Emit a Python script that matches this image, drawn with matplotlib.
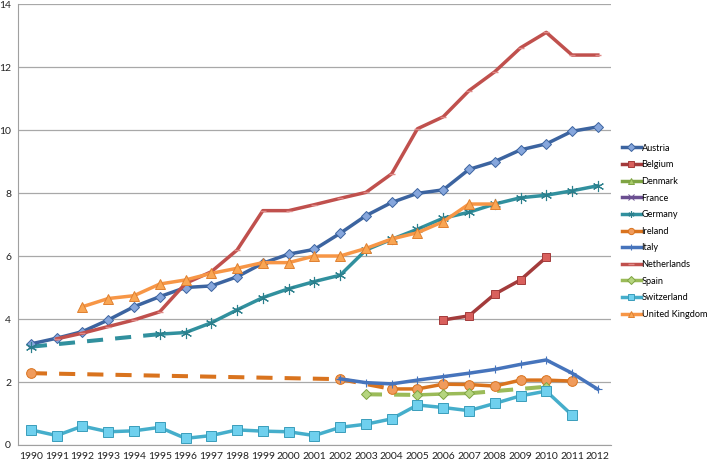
import numpy as np
import matplotlib
matplotlib.use("Agg")
import matplotlib.pyplot as plt

plt.rcParams['font.family'] = ['Lato', 'DejaVu Sans']

years = [str(y) for y in range(1990, 2013)]
nan = np.nan

austria = [3.21, 3.39, 3.6, 3.97, 4.39, 4.71, 5.0, 5.05, 5.34, 5.77, 6.06, 6.21, 6.72,
           7.28, 7.70, 7.99, 8.10, 8.75, 9.0, 9.37, 9.56, 9.96, 10.1]
belgium = [nan]*16 + [3.97, 4.1, 4.79, 5.24, 5.96, nan, nan]
denmark = [nan]*23
france = [nan]*23
germany = [3.12, nan, nan, nan, nan, 3.52, 3.57, 3.88, 4.29, 4.68, 4.96, 5.19, 5.39,
           6.19, 6.53, 6.85, 7.2, 7.39, 7.65, 7.85, 7.93, 8.07, 8.23]
ireland = [2.28] + [nan]*11 + [2.09, nan, 1.78, 1.78, 1.93, 1.92, 1.87, 2.06, 2.06, 2.03, nan]
italy = [nan]*12 + [2.1, 1.98, 1.94, 2.06, 2.17, 2.28, 2.4, 2.56, 2.7, 2.28, 1.77]
netherlands = [nan, 3.37, 3.55, 3.76, 3.97, 4.23, 5.13, 5.5, 6.19, 7.44, 7.44, 7.63, 7.83,
               8.02, 8.61, 10.04, 10.42, 11.25, 11.85, 12.61, 13.1, 12.38, 12.38]
spain = [nan]*13 + [1.61, nan, 1.59, 1.62, 1.64, nan, nan, 1.85, nan, nan]
switzerland = [0.48, 0.3, 0.6, 0.42, 0.45, 0.56, 0.21, 0.3, 0.48, 0.44, 0.42, 0.3, 0.56,
               0.66, 0.83, 1.27, 1.19, 1.09, 1.32, 1.56, 1.71, 0.95, nan]
uk = [nan, nan, 4.39, 4.65, 4.74, 5.11, 5.24, 5.45, 5.61, 5.79, 5.79, 6.0, 6.0,
      6.24, 6.54, 6.74, 7.09, 7.65, 7.65, nan, nan, nan, nan]

series = [
    ("Austria", austria, dict(color="#3C64A0", marker="D", mfc="#86A6DC", mec="#3C64A0", ms=5)),
    ("Belgium", belgium, dict(color="#A33B3B", marker="s", mfc="#D9605D", mec="#A33B3B", ms=6)),
    ("Denmark", denmark, dict(color="#7FA443", marker="^", mfc="#A8CC6A", mec="#7FA443", ms=6)),
    ("France", france, dict(color="#6B4F91", marker="x", mfc="#6B4F91", mec="#6B4F91", ms=6)),
    ("Germany", germany, dict(color="#31909E", marker=(6, 2, 0), mfc="#31909E", mec="#2B7F8C", ms=8, mew=0.8)),
    ("Ireland", ireland, dict(color="#D9731E", marker="o", mfc="#F09B5C", mec="#D9731E", ms=7)),
    ("Italy", italy, dict(color="#4674BC", marker="+", mfc="#4674BC", mec="#4674BC", ms=6, mew=0.8)),
    ("Netherlands", netherlands, dict(color="#C0504D", marker="_", mfc="#E08A88", mec="#E08A88", ms=4, mew=1)),
    ("Spain", spain, dict(color="#9BBB59", marker="D", mfc="#B5D57F", mec="#7FA443", ms=5)),
    ("Switzerland", switzerland, dict(color="#45AECB", marker="s", mfc="#6FD0EE", mec="#3A9DBB", ms=7)),
    ("United Kingdom", uk, dict(color="#F79646", marker="^", mfc="#F9A654", mec="#E08030", ms=7)),
]

fig = plt.figure(figsize=(7.07, 4.62), dpi=100)
ax = fig.add_axes([0.0255, 0.0368, 0.8383, 0.9545])

x = np.arange(len(years))
lw = 2.5
handles = []
for name, vals, st in series:
    v = np.array(vals, dtype=float)
    valid = np.where(~np.isnan(v))[0]
    # dashed connectors across gaps
    for a, b in zip(valid[:-1], valid[1:]):
        if b - a > 1:
            ax.plot([x[a], x[b]], [v[a], v[b]], color=st["color"], lw=lw + 0.4,
                    ls=(0, (4, 3)), solid_capstyle='butt', zorder=2)
    h, = ax.plot(x, v, color=st["color"], lw=lw, marker=st["marker"], mfc=st["mfc"],
                 mec=st["mec"], ms=st["ms"], mew=st.get("mew", 0.7), label=name, zorder=3,
                 solid_joinstyle='round')
    handles.append(h)

ax.set_xlim(-0.5, len(years) - 0.5)
ax.set_ylim(0, 14)
ax.set_yticks(np.arange(0, 15, 2))
ax.set_xticks(x)
ax.set_xticklabels(years)
ax.yaxis.grid(True, color="#A8A8A8", lw=0.9)
ax.set_axisbelow(True)
for s in ["top", "right"]:
    ax.spines[s].set_visible(False)
ax.spines["left"].set_color("#A0A0A0")
ax.spines["bottom"].set_color("#A0A0A0")
ax.tick_params(axis="both", length=0, labelsize=7.5, colors="#222222")
ax.tick_params(axis="y", pad=5)
ax.tick_params(axis="x", pad=5)

leg = fig.legend(handles=handles, loc="upper left", bbox_to_anchor=(0.8795, 0.689),
                 frameon=False, fontsize=6.6, handlelength=2.05, handletextpad=0.1,
                 labelspacing=0.83, borderpad=0, borderaxespad=0)
for lh in leg.get_lines():
    lh.set_markersize(4.5)

fig.savefig("out.png", dpi=100)
